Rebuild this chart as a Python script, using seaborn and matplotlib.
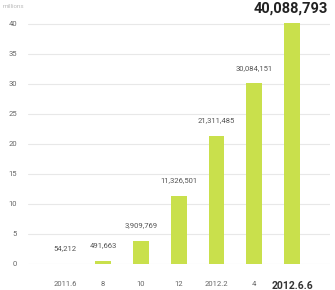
import matplotlib
matplotlib.use("Agg")
import matplotlib.pyplot as plt
import seaborn as sns
import pandas as pd

categories = ["2011.6", "8", "10", "12", "2012.2", "4", "2012.6.6"]
users = [54212, 491663, 3909769, 11326501, 21311485, 30084151, 40088793]
yticks = [0, 5, 10, 15, 20, 25, 30, 35, 40]

df = pd.DataFrame({"period": categories, "millions": [u / 1e6 for u in users]})

sns.set_theme(style="white")
plt.rcParams["font.family"] = ["Roboto", "DejaVu Sans"]

fig = plt.figure(figsize=(3.35, 2.9), dpi=100)
ax = fig.add_axes([28 / 335, 26 / 290, 302 / 335, 258 / 290])

sns.barplot(data=df, x="period", y="millions", color="#c9e04c", saturation=1,
            width=0.42, linewidth=0, ax=ax, zorder=3)

ax.set_xlim(-0.98, 7.0)
ax.set_ylim(0, 43)
ax.set_yticks(yticks)
ax.set_yticklabels([str(t) for t in yticks])
ax.grid(axis="y", color="#e8e8e8", linewidth=0.8, zorder=0)
ax.set_axisbelow(True)
for s in ax.spines.values():
    s.set_visible(False)
ax.set_xlabel("")
ax.set_ylabel("")
ax.tick_params(axis="both", length=0, labelsize=5.5, colors="#666666")
ax.tick_params(axis="x", pad=12)
ax.tick_params(axis="y", pad=8)
labels = ax.get_xticklabels()
labels[-1].set_fontweight("bold")
labels[-1].set_fontsize(7.5)
labels[-1].set_color("#333333")

for i, u in enumerate(users[:-1]):
    ax.annotate(f"{u:,}", (i, u / 1e6), xytext=(0, 9), textcoords="offset points",
                ha="center", va="bottom", fontsize=5.5, color="#555555")

fig.text(328 / 335, 1 - 9 / 290, f"{users[-1]:,}", ha="right", va="center",
         fontsize=10.5, fontweight="bold", color="#222222")
fig.text(3 / 335, 1 - 6 / 290, "millions", ha="left", va="center",
         fontsize=4.5, color="#bbbbbb")

fig.savefig("out.png", dpi=100)
